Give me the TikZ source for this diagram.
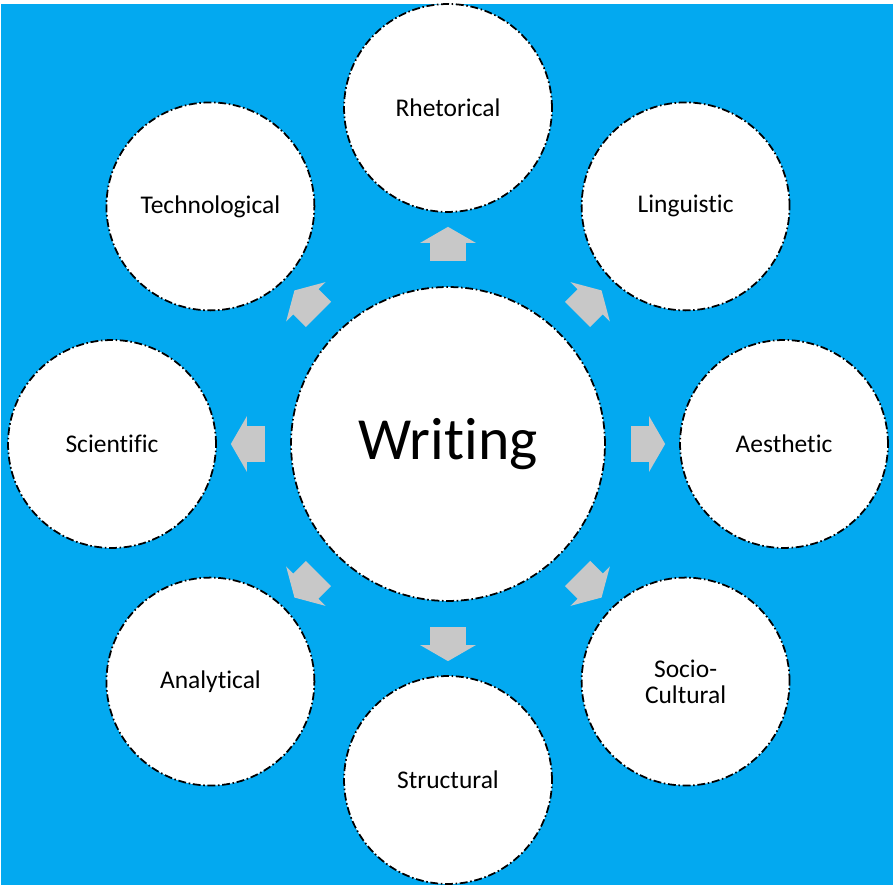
\documentclass[tikz,border=0pt]{standalone}
\usepackage{fontspec}
\setmainfont{Carlito}[Ligatures=NoCommon]
\usetikzlibrary{calc, shapes.arrows}

\begin{document}
\begin{tikzpicture}[x=0.02cm, y=0.02cm]
    % Define distances (one unit is one pixel of the slide)
    \def\ringRadius{336}
    \def\arrowDist{195}

    \definecolor{slideColour}{HTML}{03A9F0}
    \definecolor{arrowColour}{HTML}{C8C8C8}
    \definecolor{borderColour}{HTML}{000000}

    \tikzset{
        bubble/.style={circle, fill=white, draw=borderColour, line width=1pt,
            dash pattern=on 4.5pt off 1.5pt on 0.9pt off 1.5pt, inner sep=0pt,
            align=center, font=\fontsize{14.5}{14.7}\selectfont},
        blockarrow/.style={single arrow, fill=arrowColour, draw=none,
            inner xsep=0pt, inner ysep=0.35cm, single arrow head extend=0.2cm,
            single arrow tip angle=120, minimum height=0.68cm},
    }

    % Page and slide background
    \useasboundingbox (0,0) rectangle (896,888);
    \fill[white] (0,0) rectangle (896,888);
    \fill[slideColour] (1,3) rectangle (893,884);

    \begin{scope}
        \clip (1,3) rectangle (893,884);

        % Draw the central circle
        \node[bubble, minimum size=6.28cm, font=\fontsize{34}{40}\selectfont] (writing) at (448,444) {Writing};

        % Draw the outer circles and the block arrows
        \foreach \ang/\name/\txt in {90/rhetorical/Rhetorical, 45/linguistic/Linguistic,
            0/aesthetic/Aesthetic, -45/socio/{Socio-\\Cultural}, -90/structural/Structural,
            -135/analytical/Analytical, 180/scientific/Scientific, 135/technological/Technological}
        {
            \node[bubble, minimum size=4.16cm] (\name) at ($(writing)+(\ang:\ringRadius)$) {\txt};
            \node[blockarrow, rotate=\ang] (arrow-\name) at ($(writing)+(\ang:\arrowDist)$) {};
        }
    \end{scope}

\end{tikzpicture}
\end{document}
